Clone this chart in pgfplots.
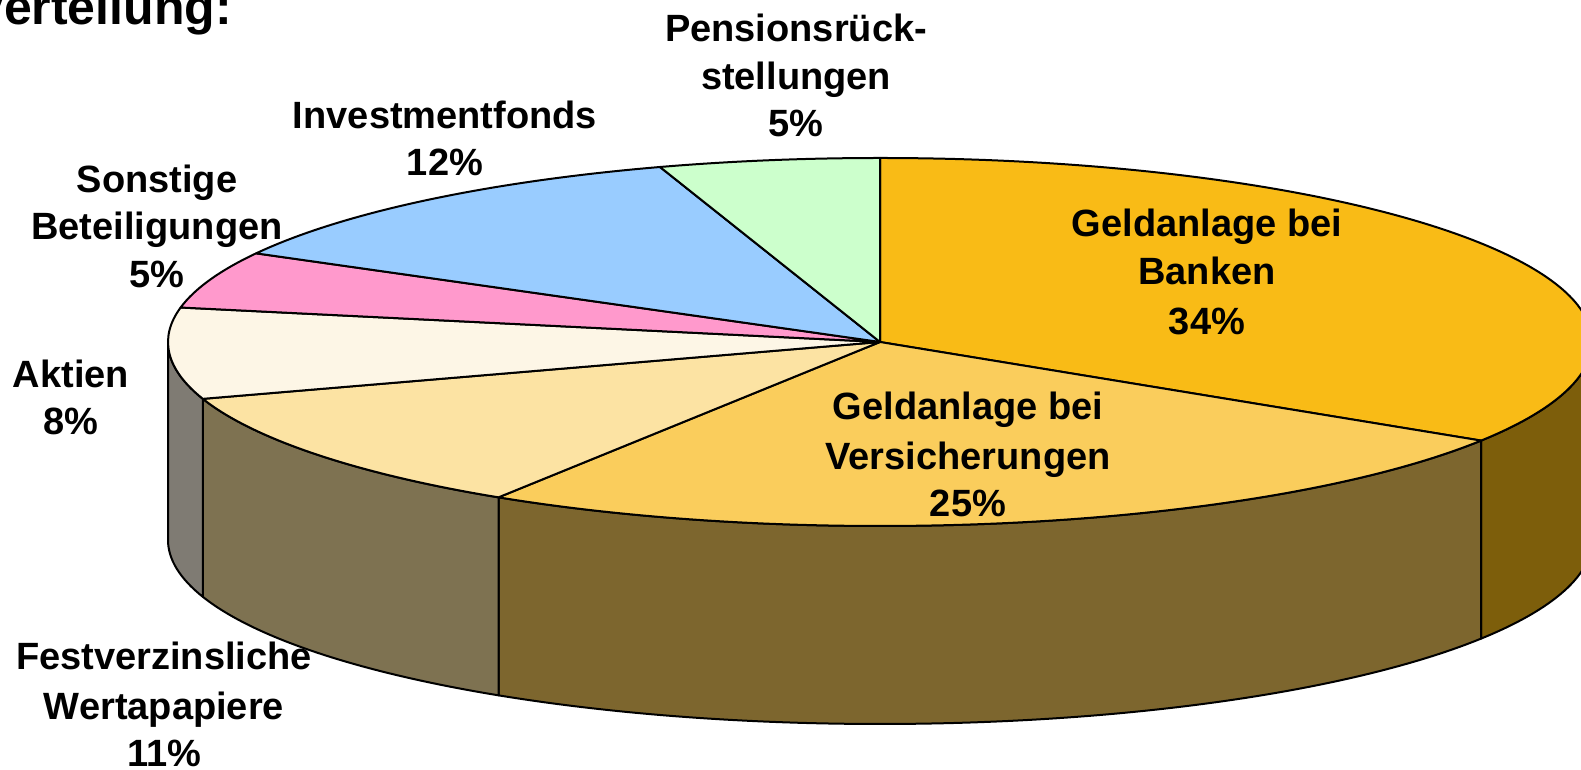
\documentclass[border=0pt]{standalone}
\usepackage{fontspec}
\setmainfont{Liberation Sans}
\usepackage{pgfplots}
\usepackage{pgfplotstable}
\pgfplotsset{compat=1.18}

\definecolor{cBank}{RGB}{249,187,22}
\definecolor{cVers}{RGB}{250,205,92}
\definecolor{cFest}{RGB}{252,227,163}
\definecolor{cAkt}{RGB}{253,246,230}
\definecolor{cSons}{RGB}{255,153,204}
\definecolor{cInv}{RGB}{153,204,255}
\definecolor{cPens}{RGB}{204,255,204}

\tikzset{lbl/.style={anchor=base, inner sep=0pt, font=\fontsize{38}{44}\selectfont\bfseries}}

\pgfplotstableread[col sep=comma]{
label,value
Geldanlage bei Banken,34
Geldanlage bei Versicherungen,25
Festverzinsliche Wertapapiere,11
Aktien,8
Sonstige Beteiligungen,5
Investmentfonds,12
Pensionsrueckstellungen,5
}\piedata

% cumulative angles (clockwise from 12 o'clock)
\def\aA{90}
\pgfplotstablegetelem{0}{value}\of\piedata \pgfmathsetmacro\aB{\aA-3.6*\pgfplotsretval}
\pgfplotstablegetelem{1}{value}\of\piedata \pgfmathsetmacro\aC{\aB-3.6*\pgfplotsretval}
\pgfplotstablegetelem{2}{value}\of\piedata \pgfmathsetmacro\aD{\aC-3.6*\pgfplotsretval}
\pgfplotstablegetelem{3}{value}\of\piedata \pgfmathsetmacro\aE{\aD-3.6*\pgfplotsretval}
\pgfplotstablegetelem{4}{value}\of\piedata \pgfmathsetmacro\aF{\aE-3.6*\pgfplotsretval}
\pgfplotstablegetelem{5}{value}\of\piedata \pgfmathsetmacro\aG{\aF-3.6*\pgfplotsretval}
\pgfplotstablegetelem{6}{value}\of\piedata \pgfmathsetmacro\aH{\aG-3.6*\pgfplotsretval}

\def\RX{712pt}
\def\RY{184pt}
\def\DEPTH{198pt}

\newcommand\pieslice[3]{%
  \pgfmathsetmacro\ps{min(#1,0)}%
  \pgfmathsetmacro\pe{max(#2,-180)}%
  \ifdim\ps pt>\pe pt
    \edef\tmp{\noexpand\filldraw[fill=#3!50!black,draw=black,line width=2pt,line join=round]
      (axis cs:880,428) ++(\ps:\RX\space and \RY)
      arc[start angle=\ps,end angle=\pe,x radius=\RX,y radius=\RY]
      -- ++(0,-\DEPTH)
      arc[start angle=\pe,end angle=\ps,x radius=\RX,y radius=\RY] -- cycle;}%
    \tmp
  \fi
  \edef\tmp{\noexpand\filldraw[fill=#3,draw=black,line width=2pt,line join=round]
    (axis cs:880,428) -- ++(#1:\RX\space and \RY)
    arc[start angle=#1,end angle=#2,x radius=\RX,y radius=\RY] -- cycle;}%
  \tmp
}

\begin{document}
\begin{tikzpicture}
\begin{axis}[
  scale only axis, width=1581pt, height=770pt,
  xmin=0, xmax=1581, ymin=0, ymax=770,
  hide axis, clip=false,
]
\pieslice{\aA}{\aB}{cBank}
\pieslice{\aB}{\aC}{cVers}
\pieslice{\aC}{\aD}{cFest}
\pieslice{\aD}{\aE}{cAkt}
\pieslice{\aE}{\aF}{cSons}
\pieslice{\aF}{\aG}{cInv}
\pieslice{\aG}{\aH}{cPens}

\node[anchor=base east, inner sep=0pt, font=\fontsize{50}{56}\selectfont\bfseries] at (axis cs:232,745) {Verteilung:};

\node[lbl] at (axis cs:1207,533) {Geldanlage bei};
\node[lbl] at (axis cs:1207,485) {Banken};
\node[lbl] at (axis cs:1207,435) {34\%};

\node[lbl] at (axis cs:968,350) {Geldanlage bei};
\node[lbl] at (axis cs:968,300) {Versicherungen};
\node[lbl] at (axis cs:968,253) {25\%};

\node[lbl] at (axis cs:164,100) {Festverzinsliche};
\node[lbl] at (axis cs:164,50) {Wertapapiere};
\node[lbl] at (axis cs:164,3) {11\%};

\node[lbl] at (axis cs:71,382) {Aktien};
\node[lbl] at (axis cs:71,335) {8\%};

\node[lbl] at (axis cs:157,577) {Sonstige};
\node[lbl] at (axis cs:157,530) {Beteiligungen};
\node[lbl] at (axis cs:157,482) {5\%};

\node[lbl] at (axis cs:445,641) {Investmentfonds};
\node[lbl] at (axis cs:445,594) {12\%};

\node[lbl] at (axis cs:796,728) {Pensionsrück-};
\node[lbl] at (axis cs:796,680) {stellungen};
\node[lbl] at (axis cs:796,633) {5\%};
\end{axis}
\pgfresetboundingbox
\useasboundingbox (0,0) rectangle (1581pt,770pt);
\end{tikzpicture}
\end{document}
